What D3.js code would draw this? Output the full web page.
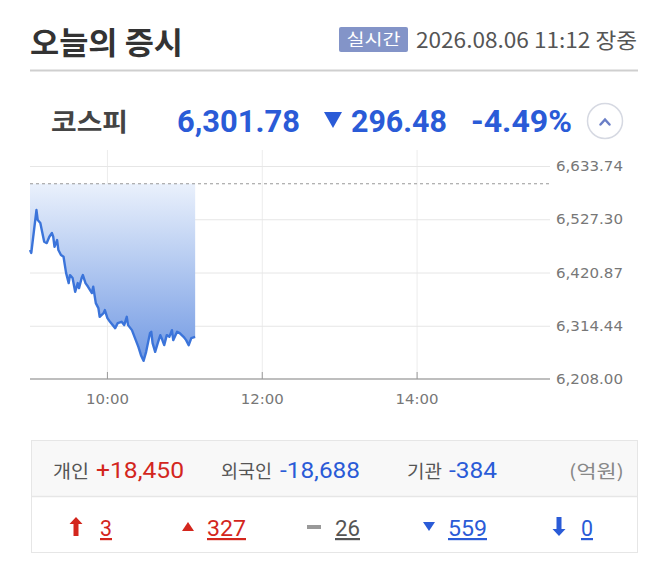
<!DOCTYPE html>
<html><head><meta charset="utf-8">
<script src="https://cdn.jsdelivr.net/npm/d3@7"></script>
<style>body{margin:0;background:#fff}svg{display:block}</style>
</head><body>
<svg id="c" width="668" height="568"></svg>
<script>
// ---- data ----
const times = ["09:00","09:01","09:05","09:06","09:08","09:11","09:13","09:15","09:17","09:18","09:19","09:21","09:22","09:24","09:26","09:27","09:28","09:30","09:31","09:33","09:35","09:37","09:38","09:40","09:41","09:43","09:45","09:48","09:49","09:51","09:53","09:54","09:57","09:58","10:00","10:02","10:06","10:08","10:11","10:13","10:15","10:16","10:19","10:21","10:24","10:26","10:28","10:30","10:33","10:34","10:35","10:37","10:39","10:41","10:42","10:44","10:46","10:48","10:50","10:51","10:54","10:56","10:59","11:01","11:03","11:05","11:08"];
const values = [6466,6460,6545.7,6525.7,6519.7,6482.3,6479.7,6492.3,6499.7,6492.3,6472.3,6485.7,6465.7,6455.7,6452.3,6435.7,6419.7,6399.7,6415.7,6409.7,6382.3,6399.7,6389.7,6409.7,6415.7,6399.7,6392.3,6379.7,6392.3,6359.7,6349.7,6332.3,6339.7,6345.7,6329.7,6322.3,6309.7,6319.7,6322.3,6315.7,6332.3,6315.7,6305.7,6292.3,6272.3,6255.7,6244.3,6262.3,6299.7,6302.3,6279.7,6262.3,6279.7,6295.7,6289.7,6275.7,6295.7,6292.3,6305.7,6285.7,6302.3,6299.7,6292.3,6285.7,6275.7,6289.7,6292];
const yTicks = [6208.00, 6314.44, 6420.87, 6527.30, 6633.74];
const xTicks = ["10:00","12:00","14:00"];
const prevClose = 6598.26;
const indexName = "코스피";
const indexValue = "6,301.78";
const indexChange = "296.48";
const indexPct = "-4.49%";
const investorLabels = ["개인","외국인","기관"];
const investorValues = ["+18,450","-18,688","-384"];
const breadthValues = ["3","327","26","559","0"];

const svg = d3.select("#c");
const KR = "'Noto Sans CJK KR','Noto Sans',sans-serif";
const NUM = "Roboto,'Liberation Sans',sans-serif";
const blue = "#2a5bd7", red = "#d3261d";

function txt(x, y, s, o) {
  const t = svg.append("text").attr("x", x).attr("y", y).text(s)
    .attr("font-family", o.ff || KR).attr("font-size", o.fs)
    .attr("font-weight", o.fw || "normal").attr("fill", o.fill || "#333");
  if (o.tl) t.attr("textLength", o.tl).attr("lengthAdjust", "spacingAndGlyphs");
  if (o.anchor) t.attr("text-anchor", o.anchor);
  if (o.ul) t.attr("text-decoration", "underline");
  return t;
}

// ---- header ----
txt(30, 54, "오늘의 증시", {fs: 31, fw: "bold", fill: "#333", tl: 153});
svg.append("rect").attr("x", 339).attr("y", 27).attr("width", 69).attr("height", 25).attr("rx", 2).attr("fill", "#8394c8");
txt(373.5, 45, "실시간", {fs: 16, fill: "#fff", anchor: "middle", tl: 54});
txt(416, 48, "2026.08.06 11:12 장중", {fs: 21, fill: "#555", tl: 221});
svg.append("line").attr("x1", 30).attr("x2", 638).attr("y1", 70.5).attr("y2", 70.5).attr("stroke", "#cfcfcf").attr("stroke-width", 2);

txt(51, 131, indexName, {fs: 25, fw: "bold", fill: "#444", tl: 77});
txt(177, 132, indexValue, {ff: NUM, fs: 31, fw: "bold", fill: blue, tl: 123});
svg.append("path").attr("d", "M324,112 L342,112 L333,128 Z").attr("fill", blue);
txt(351, 132, indexChange, {ff: NUM, fs: 31, fw: "bold", fill: blue, tl: 96});
txt(471, 132, indexPct, {ff: NUM, fs: 31, fw: "bold", fill: blue, tl: 101});
svg.append("circle").attr("cx", 605).attr("cy", 121).attr("r", 17.5).attr("fill", "#fff").attr("stroke", "#d6d9e2").attr("stroke-width", 1.5);
svg.append("path").attr("d", "M600.5,124.5 L605,119.5 L609.5,124.5").attr("fill", "none").attr("stroke", "#6a7ec6").attr("stroke-width", 2.5).attr("stroke-linecap", "round");

// ---- chart ----
const parse = s => { const [h, m] = s.split(":").map(Number); return (h - 9) * 60 + m; };
const x = d3.scaleLinear().domain([0, 403]).range([30, 550]);
const y = d3.scaleLinear().domain([6208, 6633.74]).range([379, 166]);
const data = times.map((t, i) => ({t: parse(t), v: values[i]}));

const g = svg.append("g");
g.selectAll(".vg").data(xTicks).join("line")
  .attr("x1", d => x(parse(d))).attr("x2", d => x(parse(d)))
  .attr("y1", 150).attr("y2", 379).attr("stroke", "#ececec");
g.selectAll(".hg").data(yTicks.slice(1)).join("line")
  .attr("x1", 30).attr("x2", 550).attr("y1", d => y(d) + 0.5).attr("y2", d => y(d) + 0.5).attr("stroke", "#e6e6e6");

const grad = svg.append("defs").append("linearGradient").attr("id", "gf")
  .attr("gradientUnits", "userSpaceOnUse").attr("x1", 0).attr("x2", 0)
  .attr("y1", y(prevClose)).attr("y2", y(6240));
grad.append("stop").attr("offset", 0).attr("stop-color", "#eaf1fc");
grad.append("stop").attr("offset", 1).attr("stop-color", "#7199e3");

g.append("path").datum(data)
  .attr("d", d3.area().x(d => x(d.t)).y0(y(prevClose)).y1(d => y(d.v)))
  .attr("fill", "url(#gf)");
g.append("line").attr("x1", 30).attr("x2", 550).attr("y1", y(prevClose)).attr("y2", y(prevClose))
  .attr("stroke", "#999").attr("stroke-dasharray", "3,3");
g.append("path").datum(data)
  .attr("d", d3.line().x(d => x(d.t)).y(d => y(d.v)))
  .attr("fill", "none").attr("stroke", "#3b74da").attr("stroke-width", 2.4).attr("stroke-linejoin", "round");

g.append("line").attr("x1", 30).attr("x2", 550).attr("y1", 379).attr("y2", 379).attr("stroke", "#a8a8a8").attr("stroke-width", 1.5);
g.selectAll(".tk").data(xTicks).join("line")
  .attr("x1", d => x(parse(d))).attr("x2", d => x(parse(d)))
  .attr("y1", 372).attr("y2", 379).attr("stroke", "#999");
xTicks.forEach(d => txt(x(parse(d)), 404, d, {ff: "'DejaVu Sans',sans-serif", fs: 13.5, fill: "#777", anchor: "middle", tl: 43}));
yTicks.forEach(d => txt(556, y(d) + 5, d3.format(",.2f")(d), {ff: "'DejaVu Sans',sans-serif", fs: 13.5, fill: "#777", tl: 67}));

// ---- bottom box ----
svg.append("rect").attr("x", 31.5).attr("y", 440.5).attr("width", 606).attr("height", 112).attr("fill", "#fff").attr("stroke", "#e6e6e6");
svg.append("rect").attr("x", 32).attr("y", 441).attr("width", 605).attr("height", 55).attr("fill", "#f8f8f8");
svg.append("line").attr("x1", 32).attr("x2", 637).attr("y1", 496.5).attr("y2", 496.5).attr("stroke", "#e6e6e6").attr("stroke-width", 1.5);

const invLX = [53, 221, 407], invLW = [36, 51, 35];
const invVX = [96, 280, 449], invVW = [88, 80, 48];
investorLabels.forEach((l, i) => {
  txt(invLX[i], 478, l, {fs: 18, fill: "#555", tl: invLW[i]});
  txt(invVX[i], 478, investorValues[i], {ff: NUM, fs: 22, fill: i === 0 ? red : blue, tl: invVW[i]});
});
txt(569, 478, "(억원)", {fs: 18, fill: "#888", tl: 55});

const bX = [100, 207, 335, 448, 581], bW = [12, 39, 25, 39, 12];
const bC = [red, red, "#555", blue, blue];
breadthValues.forEach((v, i) => txt(bX[i], 536, v, {ff: NUM, fs: 22, fill: bC[i], ul: true, tl: bW[i]}));
svg.append("path").attr("d", "M76,517 L82.5,524 L78.5,524 L78.5,536 L73.5,536 L73.5,524 L69.5,524 Z").attr("fill", red);
svg.append("path").attr("d", "M188,522 L194,531 L182,531 Z").attr("fill", red);
svg.append("rect").attr("x", 307).attr("y", 525).attr("width", 14).attr("height", 4).attr("fill", "#999");
svg.append("path").attr("d", "M423,522 L435,522 L429,531 Z").attr("fill", blue);
svg.append("path").attr("d", "M559,536 L565.5,529 L561.5,529 L561.5,517 L556.5,517 L556.5,529 L552.5,529 Z").attr("fill", blue);
</script>
</body></html>
